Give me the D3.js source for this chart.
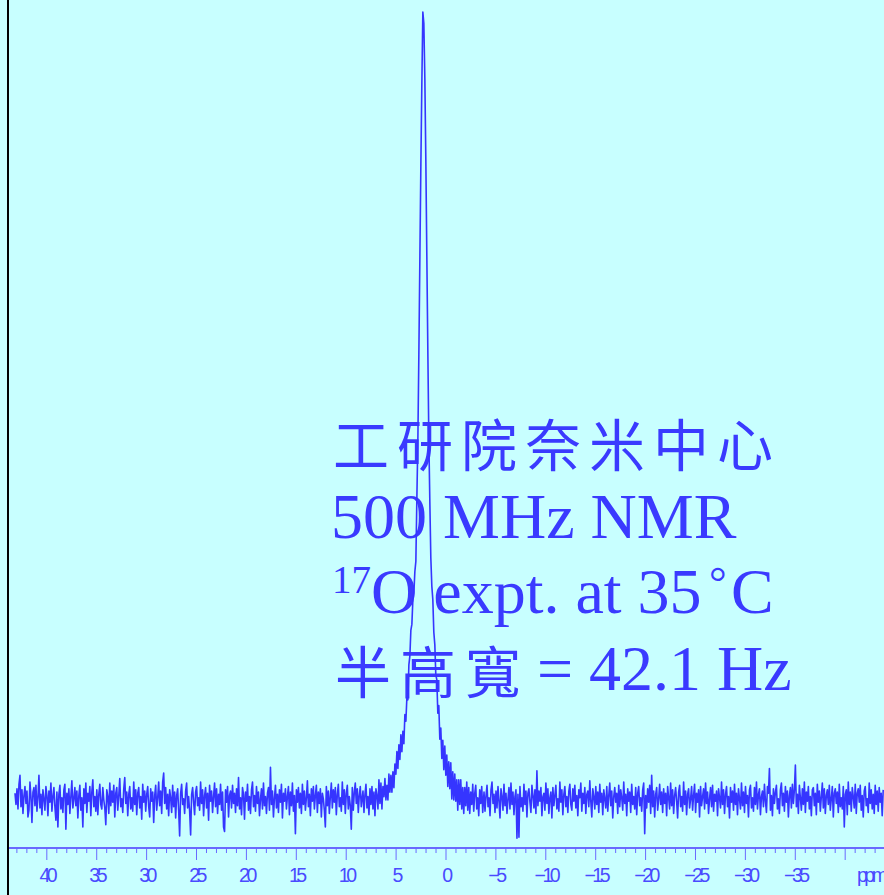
<!DOCTYPE html>
<html><head><meta charset="utf-8">
<script src="https://cdn.jsdelivr.net/npm/d3@7"></script>
<style>html,body{margin:0;padding:0;background:#c8ffff;overflow:hidden}</style>
</head><body>
<svg id="chart" width="884" height="895"></svg>
<script>
// ---- data (evenly sampled spectrum, 0.1 ppm per point, arbitrary intensity units) ----
const ppmStep = 0.1;
const leftStartPpm = 43.14;
const leftIntensity = [
6,-4,10,-8,14,22,-6,9,-12,4,12,-3,8,-15,-9,16,3,-20,7,11,-5,13,-10,2,22,-7,5,-13,9,1,
-9,12,4,-14,8,-2,15,-10,3,11,-6,-18,7,-24,5,13,-8,2,-11,9,14,-26,6,-4,10,-12,3,17,-7,1,
11,-5,8,-16,4,13,-9,2,-24,10,-3,15,-11,6,-1,12,-14,7,18,-6,3,-10,9,-13,5,14,-4,-8,11,0,
-7,-22,9,3,-12,15,-5,8,-2,13,-15,6,11,-9,4,19,-6,1,-11,10,20,-3,7,-14,5,12,-8,2,-10,16,
-4,9,-13,6,11,-7,3,-17,14,-2,8,-10,5,12,-6,-15,10,-1,7,-20,4,13,-9,2,16,-5,8,-12,16,24,
-3,11,-8,5,-14,9,2,-11,13,-6,7,-16,4,10,-9,-32,6,14,-4,1,-12,8,15,-7,3,-10,-31,5,11,-2,
-13,7,12,-5,2,-9,16,-3,9,-14,4,11,-7,6,-18,13,-1,8,-11,3,15,-6,10,-12,5,-4,14,-9,7,-24,
-28,9,-2,12,-15,4,8,-7,13,-3,6,-11,10,-5,20,-8,2,-13,11,5,-17,7,-1,14,-9,3,-12,9,16,-6,
4,-10,12,-3,7,-14,1,10,-8,15,-5,3,-12,6,11,-9,29,-4,8,-15,2,13,-7,5,-11,9,-2,14,-16,6,
-1,10,-8,3,12,-13,7,-5,15,-10,4,-30,9,-2,11,-7,6,-12,14,-4,8,-9,2,17,-6,5,-14,10,-1,12,
-8,4,13,-11,7,-3,10,-15,6,1,-9,-24,12,-5,8,-12,3,15,-7,9,-2,11,-13,5,14,-6,2,-10,16,-4,
9,-12,6,13,-8,3,-5,-26,11,-9,7,15,-3,10,-11,4,12,-6
];
const peakStartPpm = 8.27;
const peakIntensity = [
8,-11,5,14,-7,3,-13,10,-4,12,
-8,7,-14,10,4,-8,18,-3,15,-8,
12,3,19,0,13,0,23,7,22,7,
25,11,32,23,43,28,49,36,58,43,
61,50,76,70,91,89,120,128,151,156,
178,184,203,212,268,319,396,480,563,637,
700,690,641,568,483,399,321,265,215,190,
178,149,138,111,107,77,84,54,64,37,
53,27,48,22,40,12,34,10,33,1,
25,0,23,-1,18,-9,18,-4,18,-8,
11,-12,11,-5,16,-9,11,-12,7,-4,
14,-10,6,13,-8,2,-14,9,-3,12,
-11
];
const rightStartPpm = -3.86;
const rightIntensity = [
7,-10,4,13,-6,2,-14,9,16,-3,5,-11,8,-7,12,-1,-16,10,3,-9,14,-5,6,-12,1,11,-8,15,-4,7,
-13,3,9,-34,5,-33,12,-6,2,-10,14,-4,8,-15,6,10,-2,-11,13,4,-7,9,-12,26,-5,8,-1,11,-14,3,
6,-9,15,-3,10,-12,2,7,-16,11,-5,4,13,-8,1,-10,16,-2,9,-13,5,12,-6,3,-11,8,14,-4,-9,10,
-1,13,-7,4,-14,9,2,15,-10,6,-3,11,-12,5,8,-6,17,-1,-15,10,3,-8,12,-4,7,-11,14,-2,6,-13,
9,1,-7,12,-10,4,15,-5,8,-16,3,11,-2,6,-12,13,-6,9,2,-9,16,-3,5,-14,10,-1,7,-11,14,-4,
3,-8,11,-13,6,12,-5,2,-10,9,15,-30,4,-7,10,-2,13,-12,22,-6,8,-15,5,11,-9,1,14,-4,7,-11,
10,-3,6,-14,12,2,-8,15,-5,9,-12,4,11,-1,-16,7,13,-6,3,-10,16,-4,8,-13,5,10,-7,1,12,-9,
4,14,-11,6,-2,9,-15,12,-5,3,10,-8,15,-3,7,-12,1,11,-6,13,-10,5,-1,8,-14,10,2,-7,16,-4,
9,-12,5,12,-6,3,-16,11,-2,8,-9,14,-4,6,-13,10,1,-8,15,-5,7,-11,12,-3,4,-15,9,13,-7,2,
-10,11,-4,16,-8,5,10,-13,3,8,-6,14,-1,-11,12,6,28,-9,4,-14,10,-3,7,13,-8,1,-12,9,15,-5,
6,-10,12,-2,8,-15,4,11,-7,14,-3,9,31,-6,5,-12,13,2,-9,10,-4,16,-11,7,-1,12,-8,3,-14,9,
11,-5,6,-13,14,-2,8,-10,3,15,-7,10,-12,4,9,-4,13,-9,1,12,-15,6,10,-3,7,-11,14,-6,2,-8,
12,-24,5,9,-13,16,-4,7,-10,11,3,-7,14,-12,6,10,-2,13,-9,4,-15,8,12,-5,1,-11,15,-3,9,-8,
5,-12,13,-4,8,-10,11,-2,6,-14,9
];
const peakMax = 700;
const majorTicks = [40,35,30,25,20,15,10,5,0,-5,-10,-15,-20,-25,-30,-35,-40];
const unlabeledTicks = [-40];
const axisUnit = "ppm";
const annotCJK1 = "工研院奈米中心";
const annotLine2 = "500 MHz NMR";
const annotSup = "17";
const annotLine3 = "O expt. at 35";
const annotDeg = "°";
const annotC = "C";
const annotCJK4 = "半高寬";
const annotLine4 = "= 42.1 Hz";

// ---- drawing ----
const W = 884, H = 895;
const svg = d3.select("#chart");
svg.append("rect").attr("width", W).attr("height", H).attr("fill", "#c8ffff");

const x = d3.scaleLinear().domain([43.84, -43.94]).range([8, 884]);
const y = d3.scaleLinear().domain([0, peakMax]).range([800, 12]);

const textColor = "#3a3aff";
const serif = "'Liberation Serif','Times New Roman',serif";
const cjk = "'Noto Sans CJK TC','Noto Sans CJK SC',sans-serif";

// annotation text
const T = svg.append("g").attr("fill", textColor);
T.append("text").attr("x", 333).attr("y", 466).attr("font-family", cjk)
  .attr("font-size", 56).attr("letter-spacing", 8).text(annotCJK1);
T.append("text").attr("x", 331).attr("y", 538).attr("font-family", serif)
  .attr("font-size", 64).text(annotLine2);
T.append("text").attr("x", 332).attr("y", 593).attr("font-family", serif)
  .attr("font-size", 39).text(annotSup);
T.append("text").attr("x", 371).attr("y", 613).attr("font-family", serif)
  .attr("font-size", 64).text(annotLine3);
T.append("text").attr("x", 709).attr("y", 597).attr("font-family", serif)
  .attr("font-size", 44).text(annotDeg);
T.append("text").attr("x", 731).attr("y", 613).attr("font-family", serif)
  .attr("font-size", 64).text(annotC);
T.append("text").attr("x", 335).attr("y", 693).attr("font-family", cjk)
  .attr("font-size", 56).attr("letter-spacing", 9).text(annotCJK4);
T.append("text").attr("x", 537).attr("y", 690).attr("font-family", serif)
  .attr("font-size", 64).text(annotLine4);

// spectrum
const seg = (start, arr) => arr.map((v, i) => [start - i * ppmStep, v]);
const pts = [].concat(seg(leftStartPpm, leftIntensity), seg(peakStartPpm, peakIntensity), seg(rightStartPpm, rightIntensity));
svg.append("path").datum(pts)
  .attr("fill", "none").attr("stroke", "#3535ff").attr("stroke-width", 1.6)
  .attr("stroke-linejoin", "round")
  .attr("d", d3.line().x(d => x(d[0])).y(d => y(d[1])));

// axis
const axisColor = "#6a6aff";
const minorTicks = d3.range(43, -44, -1).filter(v => v % 5 !== 0);
const gMinor = svg.append("g").attr("transform", "translate(0,848)")
  .call(d3.axisBottom(x).tickValues(minorTicks).tickSize(5).tickSizeOuter(0).tickFormat(""));
gMinor.select(".domain").remove();
gMinor.selectAll(".tick line").attr("stroke", axisColor);

const fmt = d3.format("");
const gMajor = svg.append("g").attr("transform", "translate(0,848)")
  .call(d3.axisBottom(x).tickValues(majorTicks).tickSize(12).tickSizeOuter(0)
    .tickFormat(d => unlabeledTicks.includes(d) ? "" : fmt(d)));
gMajor.select(".domain").attr("stroke", axisColor).attr("stroke-width", 2)
  .attr("d", `M${x.range()[0]},0H${x.range()[1]}`);
gMajor.selectAll(".tick line").attr("stroke", axisColor);
gMajor.selectAll(".tick text").attr("y", 34).attr("dy", 0)
  .attr("fill", "#4a4aff").attr("font-family", "'Liberation Sans',Arial,sans-serif")
  .attr("font-size", 19.5).attr("letter-spacing", -3.5);

svg.append("text").attr("x", 857).attr("y", 882).attr("fill", "#4a4aff")
  .attr("font-family", "'Liberation Sans',Arial,sans-serif").attr("font-size", 19.5)
  .attr("letter-spacing", -3.5).text(axisUnit);

// left frame line
svg.append("line").attr("x1", 8).attr("x2", 8).attr("y1", 0).attr("y2", H)
  .attr("stroke", "#000").attr("stroke-width", 2);
</script>
</body></html>
